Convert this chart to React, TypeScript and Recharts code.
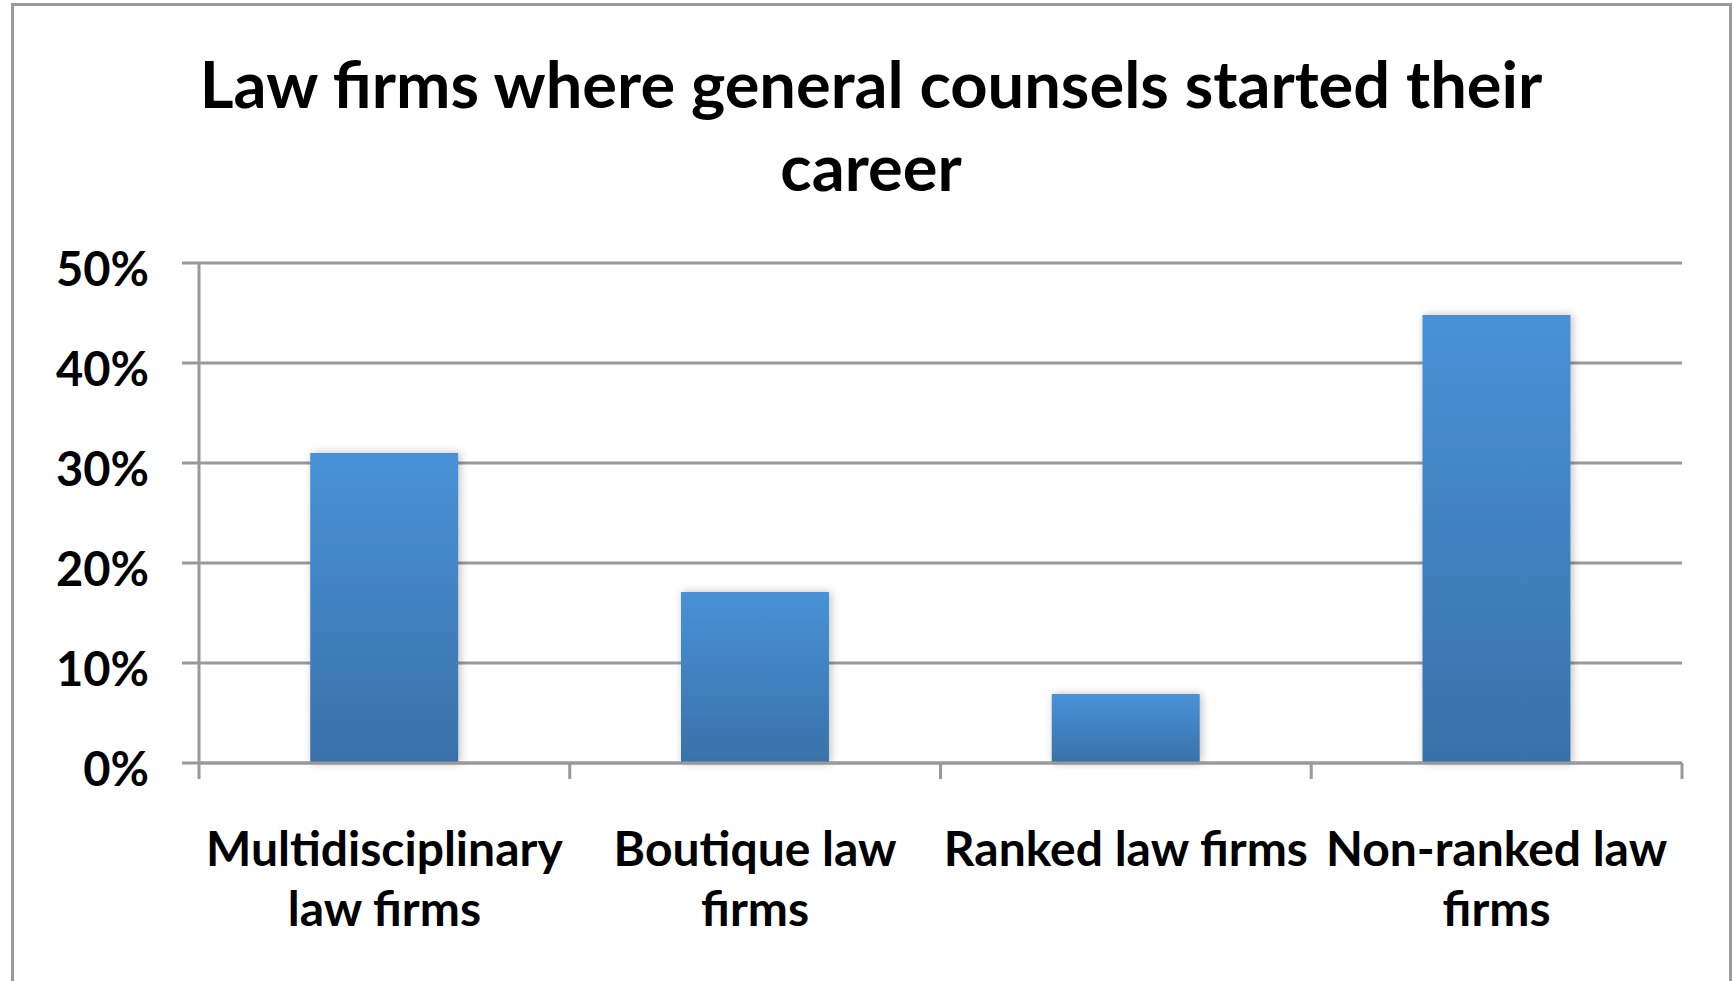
import React from "react";
import { BarChart, Bar, XAxis, YAxis, CartesianGrid } from "recharts";

const categories = [
  "Multidisciplinary law firms",
  "Boutique law firms",
  "Ranked law firms",
  "Non-ranked law firms",
];
const labelLines = [
  ["Multidisciplinary", "law firms"],
  ["Boutique law", "firms"],
  ["Ranked law firms"],
  ["Non-ranked law", "firms"],
];
const shares = [31, 17.1, 6.9, 44.8];
const yTicks = [0, 10, 20, 30, 40, 50];
const titleLines = ["Law firms where general counsels started their", "career"];

const data = categories.map((name, i) => ({ name, share: shares[i] }));

const FONT = "Lato, 'Open Sans', sans-serif";
const GRID = "#999999";

function CategoryTick(props: any) {
  const { x, y, index, payload, visibleTicksCount } = props;
  const half = payload?.offset ?? 0;
  const lines = labelLines[index] ?? [String(payload.value)];
  return (
    <g>
      <line x1={x - half} x2={x - half} y1={y} y2={y + 16} stroke={GRID} strokeWidth={3} />
      {index === visibleTicksCount - 1 && (
        <line x1={x + half} x2={x + half} y1={y} y2={y + 16} stroke={GRID} strokeWidth={3} />
      )}
      {lines.map((l, i) => (
        <text
          key={i}
          x={x}
          y={y + 103 + i * 60}
          textAnchor="middle"
          fontFamily={FONT}
          fontWeight={700}
          fontSize={48}
          fill="#000"
        >
          {l}
        </text>
      ))}
    </g>
  );
}

export default function App() {
  return (
    <div style={{ position: "relative", width: 1735, height: 981, overflow: "hidden", background: "#fff" }}>
      <style>{"body{margin:0}"}</style>
      <div
        style={{
          position: "absolute",
          left: 11,
          top: 3,
          width: 1715,
          height: 1000,
          border: "3px solid #9b9b9b",
        }}
      />
      <div
        style={{
          position: "absolute",
          left: 13,
          top: 42,
          width: 1716,
          textAlign: "center",
          fontFamily: FONT,
          fontWeight: 700,
          fontSize: 65,
          lineHeight: "83px",
          color: "#000",
        }}
      >
        {titleLines.map((t) => (
          <div key={t}>{t}</div>
        ))}
      </div>
      <div style={{ position: "absolute", left: 0, top: 0 }}>
        <BarChart
          width={1735}
          height={981}
          data={data}
          margin={{ top: 263, right: 53, bottom: 0, left: 0 }}
          barCategoryGap="30%"
        >
          <defs>
            <linearGradient id="barFill" x1="0" y1="0" x2="0" y2="1">
              <stop offset="0%" stopColor="#4892d7" />
              <stop offset="100%" stopColor="#3971a9" />
            </linearGradient>
            <filter id="barShadow" x="-20%" y="-10%" width="140%" height="120%">
              <feDropShadow dx="2" dy="0" stdDeviation="4" floodColor="#000" floodOpacity="0.25" />
            </filter>
          </defs>
          <CartesianGrid vertical={false} stroke={GRID} strokeWidth={3} />
          <XAxis
            dataKey="name"
            height={218}
            axisLine={{ stroke: GRID, strokeWidth: 3 }}
            tickLine={false}
            tickSize={0}
            tickMargin={0}
            interval={0}
            tick={<CategoryTick />}
          />
          <YAxis
            domain={[0, 50]}
            ticks={yTicks}
            width={199}
            axisLine={{ stroke: GRID, strokeWidth: 3 }}
            tickLine={{ stroke: GRID, strokeWidth: 3 }}
            tickSize={17}
            tickMargin={33}
            tickFormatter={(v) => `${v}%`}
            tick={{ fontFamily: FONT, fontWeight: 700, fontSize: 47, fill: "#000", dy: 6 }}
          />
          <Bar dataKey="share" fill="url(#barFill)" filter="url(#barShadow)" isAnimationActive={false} />
        </BarChart>
      </div>
    </div>
  );
}
